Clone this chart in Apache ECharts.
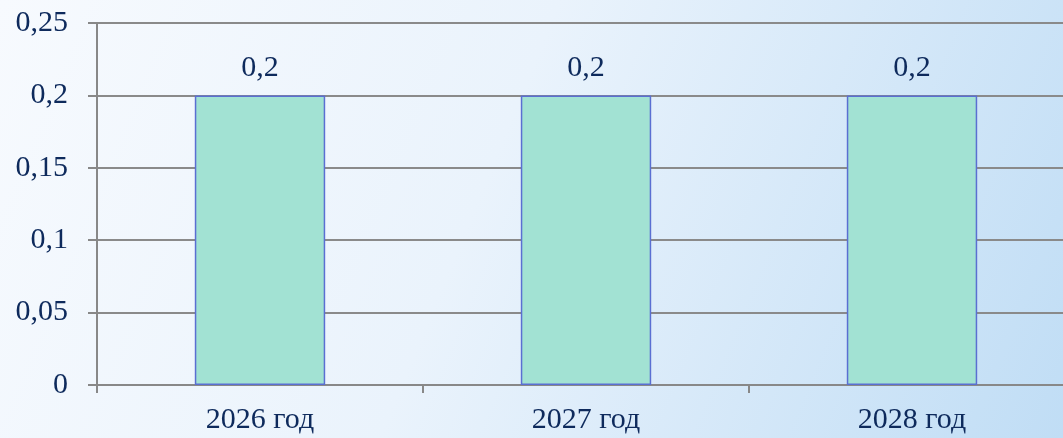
<!DOCTYPE html>
<html>
<head>
<meta charset="utf-8">
<script src="https://cdn.jsdelivr.net/npm/echarts@6/dist/echarts.min.js"></script>
<style>
  html, body { margin: 0; padding: 0; }
  #main { width: 1063px; height: 438px; }
</style>
</head>
<body>
<div id="main"></div>
<script>
// данные
const categories = ['2026 год', '2027 год', '2028 год'];
const values = [0.2, 0.2, 0.2];
const yTicks = [0, 0.05, 0.1, 0.15, 0.2, 0.25];

const fmt = v => String(v).replace('.', ',');

var myChart = echarts.init(document.getElementById('main'));

var option = {
  backgroundColor: new echarts.graphic.LinearGradient(0, 0, 1, 1, [
    { offset: 0, color: '#f7fafe' },
    { offset: 0.45, color: '#eaf3fc' },
    { offset: 1, color: '#c0ddf5' }
  ]),
  textStyle: { fontFamily: 'Liberation Serif' },
  grid: { left: 97, right: -12, top: 23, bottom: 53, outerBoundsMode: 'none' },
  xAxis: {
    type: 'category',
    data: categories,
    axisLine: { lineStyle: { color: '#888', width: 2 } },
    axisTick: { show: true, length: 8, lineStyle: { color: '#888', width: 2 } },
    axisLabel: { color: '#0e2a5c', fontSize: 30, margin: 20, fontFamily: 'Liberation Serif' }
  },
  yAxis: {
    type: 'value',
    min: 0,
    max: yTicks[yTicks.length - 1],
    interval: 0.05,
    axisLine: { show: true, lineStyle: { color: '#888', width: 2 } },
    axisTick: { show: true, length: 9, lineStyle: { color: '#888', width: 2 } },
    splitLine: { lineStyle: { color: '#8a8a8a', width: 2 } },
    axisLabel: {
      color: '#0e2a5c', fontSize: 30, margin: 29, fontFamily: 'Liberation Serif',
      formatter: v => fmt(+v.toFixed(2))
    }
  },
  series: [
    {
      type: 'bar',
      data: values,
      barWidth: '40%',
      itemStyle: { color: '#a2e2d3', borderColor: '#5a6fd2', borderWidth: 1.5 },
      label: {
        show: true,
        position: 'top',
        distance: 12,
        color: '#0e2a5c',
        fontSize: 30,
        fontFamily: 'Liberation Serif',
        formatter: p => fmt(p.value)
      }
    }
  ]
};

myChart.setOption(option);
</script>
</body>
</html>
